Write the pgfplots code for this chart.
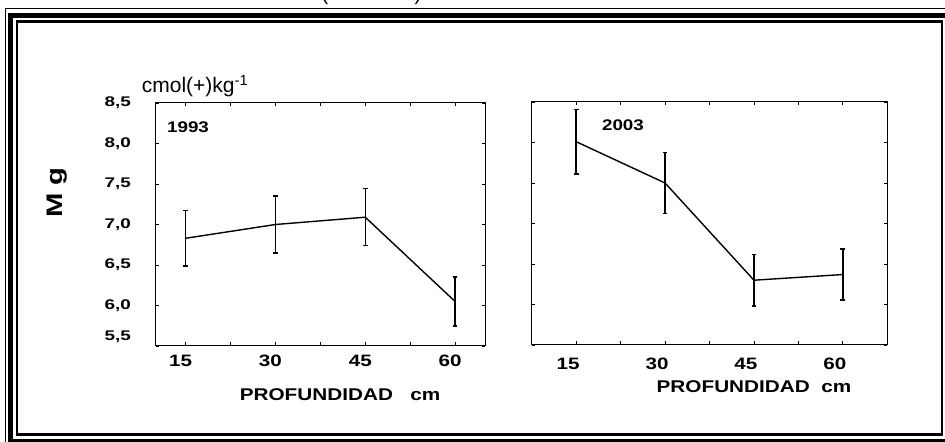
\documentclass[border=0pt]{standalone}
\usepackage{fontspec}
\setmainfont{Liberation Sans}
\usepackage{graphicx}
\usepackage{pgfplots}
\usepackage{pgfplotstable}
\pgfplotsset{compat=1.18}
\pgfplotstableread{
x y e hi lo
15 6.83 0.343 7.173 6.487
30 7.00 0.352 7.352 6.648
45 7.09 0.352 7.442 6.738
60 6.05 0.303 6.353 5.747
}\dataA
\pgfplotstableread{
x y e hi lo
15 8.01 0.400 8.410 7.610
30 7.50 0.375 7.875 7.125
45 6.30 0.320 6.620 5.980
60 6.37 0.315 6.685 6.055
}\dataB
\newcommand\sx[2]{\scalebox{#1}[1]{#2}}
\begin{document}
\begin{tikzpicture}[x=1bp,y=1bp]
\pgfplotsset{
 myax/.style={
  scale only axis, height=243bp,
  ymin=5.5, ymax=8.5,
  xtick={15,30,45,60}, xticklabels={\sx{1.25}{15},\sx{1.25}{30},\sx{1.25}{45},\sx{1.25}{60}},
  minor xtick={22.5,37.5,52.5},
  ytick={5.5,6,6.5,7,7.5,8,8.5},
  tick align=inside, tick pos=both,
  xticklabel pos=lower, yticklabel pos=left,
  major tick length=3.5bp, minor tick length=3.5bp,
  every tick/.style={black, line width=0.8bp},
  axis line style={line width=1bp, black},
  clip=false,
 },
 myplot/.style={black, line width=1.4bp, mark=none,
  error bars/.cd, y dir=both, y explicit, error mark=none,
  error bar style={line width=1.5bp}},
 mycap/.style={black, only marks, mark=-, mark size=2.4bp, mark options={line width=1.4bp}},
}
% left axis
\begin{axis}[myax, at={(155.7bp,96bp)}, anchor=south west, width=329.3bp,
  xmin=10, xmax=65,
  yticklabels={{\raisebox{9bp}[\height][\depth]{\sx{1.35}{5,5}}},{\sx{1.35}{6,0}},{\sx{1.35}{6,5}},{\sx{1.35}{7,0}},{\sx{1.35}{7,5}},{\sx{1.35}{8,0}},{\sx{1.35}{8,5}}},
  yticklabel style={inner sep=0pt, xshift=-24.5bp, font=\fontsize{14bp}{15bp}\bfseries},
  xticklabel style={inner sep=0pt, xshift=-5bp, yshift=-8.5bp, font=\fontsize{16.5bp}{17bp}\bfseries},
]
\addplot[myplot] table[x=x, y=y, y error=e] {\dataA};
\addplot[mycap] table[x=x, y=hi] {\dataA};
\addplot[mycap] table[x=x, y=lo] {\dataA};
\node[font=\fontsize{15.4bp}{16bp}\bfseries, inner sep=0pt] at (axis cs:15.4,8.2) {\sx{1.22}{1993}};
\end{axis}
% right axis
\begin{axis}[myax, at={(531.7bp,97bp)}, anchor=south west, width=355.6bp,
  xmin=7.5, xmax=67.5,
  yticklabels={},
  xticklabel style={inner sep=0pt, xshift=-8bp, yshift=-13bp, font=\fontsize{16.5bp}{17bp}\bfseries},
]
\addplot[myplot] table[x=x, y=y, y error=e] {\dataB};
\addplot[mycap] table[x=x, y=hi] {\dataB};
\addplot[mycap] table[x=x, y=lo] {\dataB};
\node[font=\fontsize{15.4bp}{16bp}\bfseries, inner sep=0pt] at (axis cs:22.9,8.21) {\sx{1.22}{2003}};
\end{axis}
% axis titles
\node[inner sep=0pt, font=\fontsize{17bp}{18bp}\bfseries] at (340bp,47bp) {\sx{1.22}{PROFUNDIDAD\ \ \ cm}};
\node[inner sep=0pt, font=\fontsize{17bp}{18bp}\bfseries] at (754bp,55bp) {\sx{1.22}{PROFUNDIDAD\ \ cm}};
% unit and variable name
\node[anchor=base west, inner sep=0pt, font=\fontsize{21bp}{22bp}\selectfont] at (141.7bp,349bp) {cmol(+)kg\textsuperscript{-1}};
\node[rotate=90, inner sep=0pt, font=\fontsize{22.5bp}{24bp}\bfseries] at (57.5bp,249.5bp) {\sx{1.3}{M g}};
% cut title remnants
\node[anchor=south, inner sep=0pt, font=\fontsize{20bp}{22bp}\selectfont] at (325bp,437bp) {(};
\node[anchor=south, inner sep=0pt, font=\fontsize{20bp}{22bp}\selectfont] at (418bp,437bp) {)};
% frame
\draw[black, line width=1.3bp] (5.5bp,-5bp) rectangle (955bp,433.2bp);
\draw[black, line width=5bp] (10.7bp,0.3bp) rectangle (949bp,426.5bp);
\draw[black, line width=2.5bp] (17.2bp,7.3bp) rectangle (942bp,420.3bp);
\pgfresetboundingbox
\useasboundingbox (0,0) rectangle (945bp,442bp);
\end{tikzpicture}
\end{document}
